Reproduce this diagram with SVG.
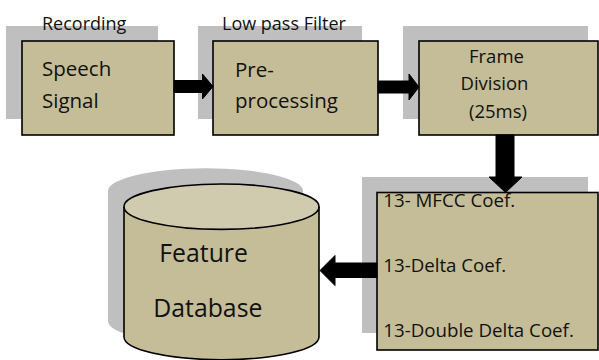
<svg xmlns="http://www.w3.org/2000/svg" width="599" height="360" viewBox="0 0 599 360">
  <style>
    .shadow { fill: #bfbfbf; }
    .box { fill: #c4bd97; stroke: #000; stroke-width: 1.6; }
    .lid { fill: #d0cbae; stroke: #000; stroke-width: 1.6; }
    .arrow { fill: #000; stroke: #000; stroke-width: 1; stroke-linejoin: miter; }
    text { font-family: "Open Sans", "Noto Sans", "Liberation Sans", sans-serif; fill: #111; }
    .label { font-size: 18px; }
    .big { font-size: 20.5px; }
    .mid { font-size: 18.5px; }
    .db { font-size: 24.8px; }
  </style>

  <!-- Stage 1: recording -->
  <g id="speech-signal">
    <rect class="shadow" x="6" y="26" width="152" height="93"/>
    <rect class="box" x="22" y="41" width="152" height="94"/>
    <text class="label" x="42" y="29.5">Recording</text>
    <text class="big" x="42" y="76">Speech</text>
    <text class="big" x="42" y="108">Signal</text>
  </g>

  <!-- Stage 2: low pass filtering -->
  <g id="pre-processing">
    <rect class="shadow" x="198" y="26" width="164" height="93"/>
    <rect class="box" x="213" y="41" width="165" height="94"/>
    <text class="label" x="222" y="29.5">Low pass Filter</text>
    <text class="big" x="235" y="76.7">Pre-</text>
    <text class="big" x="235" y="107.7">processing</text>
  </g>

  <!-- Stage 3: framing -->
  <g id="frame-division">
    <rect class="shadow" x="403" y="26" width="185" height="93"/>
    <rect class="box" x="419" y="41" width="179" height="94"/>
    <text class="mid" x="469" y="63.3">Frame</text>
    <text class="mid" x="460.5" y="90">Division</text>
    <text class="mid" x="469" y="117.5">(25ms)</text>
  </g>

  <!-- Stage 4: coefficients -->
  <g id="coefficients">
    <rect class="shadow" x="362" y="177" width="226" height="156"/>
    <rect class="box" x="377" y="192.5" width="221" height="157.5"/>
    <text class="mid" x="383.3" y="206.7" style="font-size:18.7px">13- MFCC Coef.</text>
    <text class="mid" x="383.3" y="271.7" style="font-size:18.7px">13-Delta Coef.</text>
    <text class="mid" x="383.3" y="336.7" style="font-size:18.7px">13-Double Delta Coef.</text>
  </g>

  <!-- Storage cylinder -->
  <g id="feature-database">
    <path class="shadow" d="M108 191 A97.5 22.7 0 0 1 303 191 L303 321 A97.5 22.7 0 0 1 108 321 Z"/>
    <path class="box" d="M124 206.7 L124 337 A97.5 22.7 0 0 0 319 337 L319 206.7"/>
    <ellipse class="lid" cx="221.5" cy="206.7" rx="97.5" ry="22.7"/>
    <text class="db" x="159.3" y="262.3">Feature</text>
    <text class="db" x="153.3" y="316.7">Database</text>
  </g>

  <!-- Block arrows between stages -->
  <g id="connectors">
    <polygon class="arrow" points="174,80.5 202.5,80.5 202.5,74 213,86.5 202.5,99 202.5,92.5 174,92.5"/>
    <polygon class="arrow" points="378,81 409,81 409,74 419,87 409,100 409,93 378,93"/>
    <polygon class="arrow" points="496,135 514,135 514,177 522,177 505.5,192.5 489,177 496,177"/>
    <polygon class="arrow" points="377,263 335,263 335,255.5 320,270.5 335,285.5 335,277.5 377,277.5"/>
  </g>
</svg>
